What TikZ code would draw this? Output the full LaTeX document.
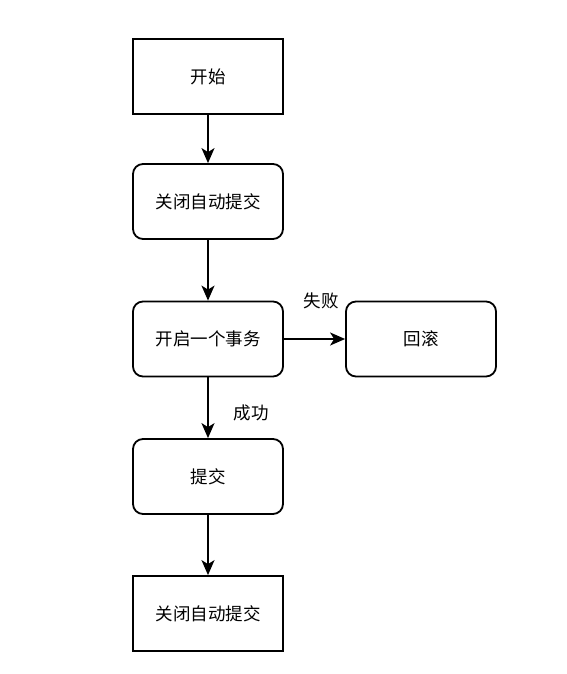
\documentclass[tikz,border=0pt]{standalone}
\usepackage{fontspec}
\setmainfont{Noto Sans CJK SC}
\usetikzlibrary{arrows.meta}
\begin{document}
\begin{tikzpicture}[x=1pt,y=-1pt,
    box/.style={draw, line width=1.8pt, minimum width=150pt, minimum height=75pt, font=\fontsize{17.5}{20}\selectfont},
    rbox/.style={box, rounded corners=10pt},
    flow/.style={line width=1.8pt, -{Stealth[length=15pt,width=13pt,inset=4pt]}},
    lbl/.style={font=\fontsize{17.5}{20}\selectfont}]
        \useasboundingbox (0,0) rectangle (566,674);
        \node [box] (start) at (208,76.5) {开始};
        \node [rbox] (off) at (208,201.5) {关闭自动提交};
        \node [rbox] (begin) at (208,339) {开启一个事务};
        \node [rbox] (rollback) at (421,339) {回滚};
        \node [rbox] (commit) at (208,476.5) {提交};
        \node [box] (on) at (208,613.5) {关闭自动提交};
        \draw [flow] (start) -- (off);
        \draw [flow] (off) -- (begin);
        \draw [flow] (begin) -- (rollback);
        \draw [flow] (begin) -- (commit);
        \draw [flow] (commit) -- (on);
        \node [lbl] (fail) at (321,301) {失败};
        \node [lbl] (ok) at (251,413) {成功};
\end{tikzpicture}
\end{document}
